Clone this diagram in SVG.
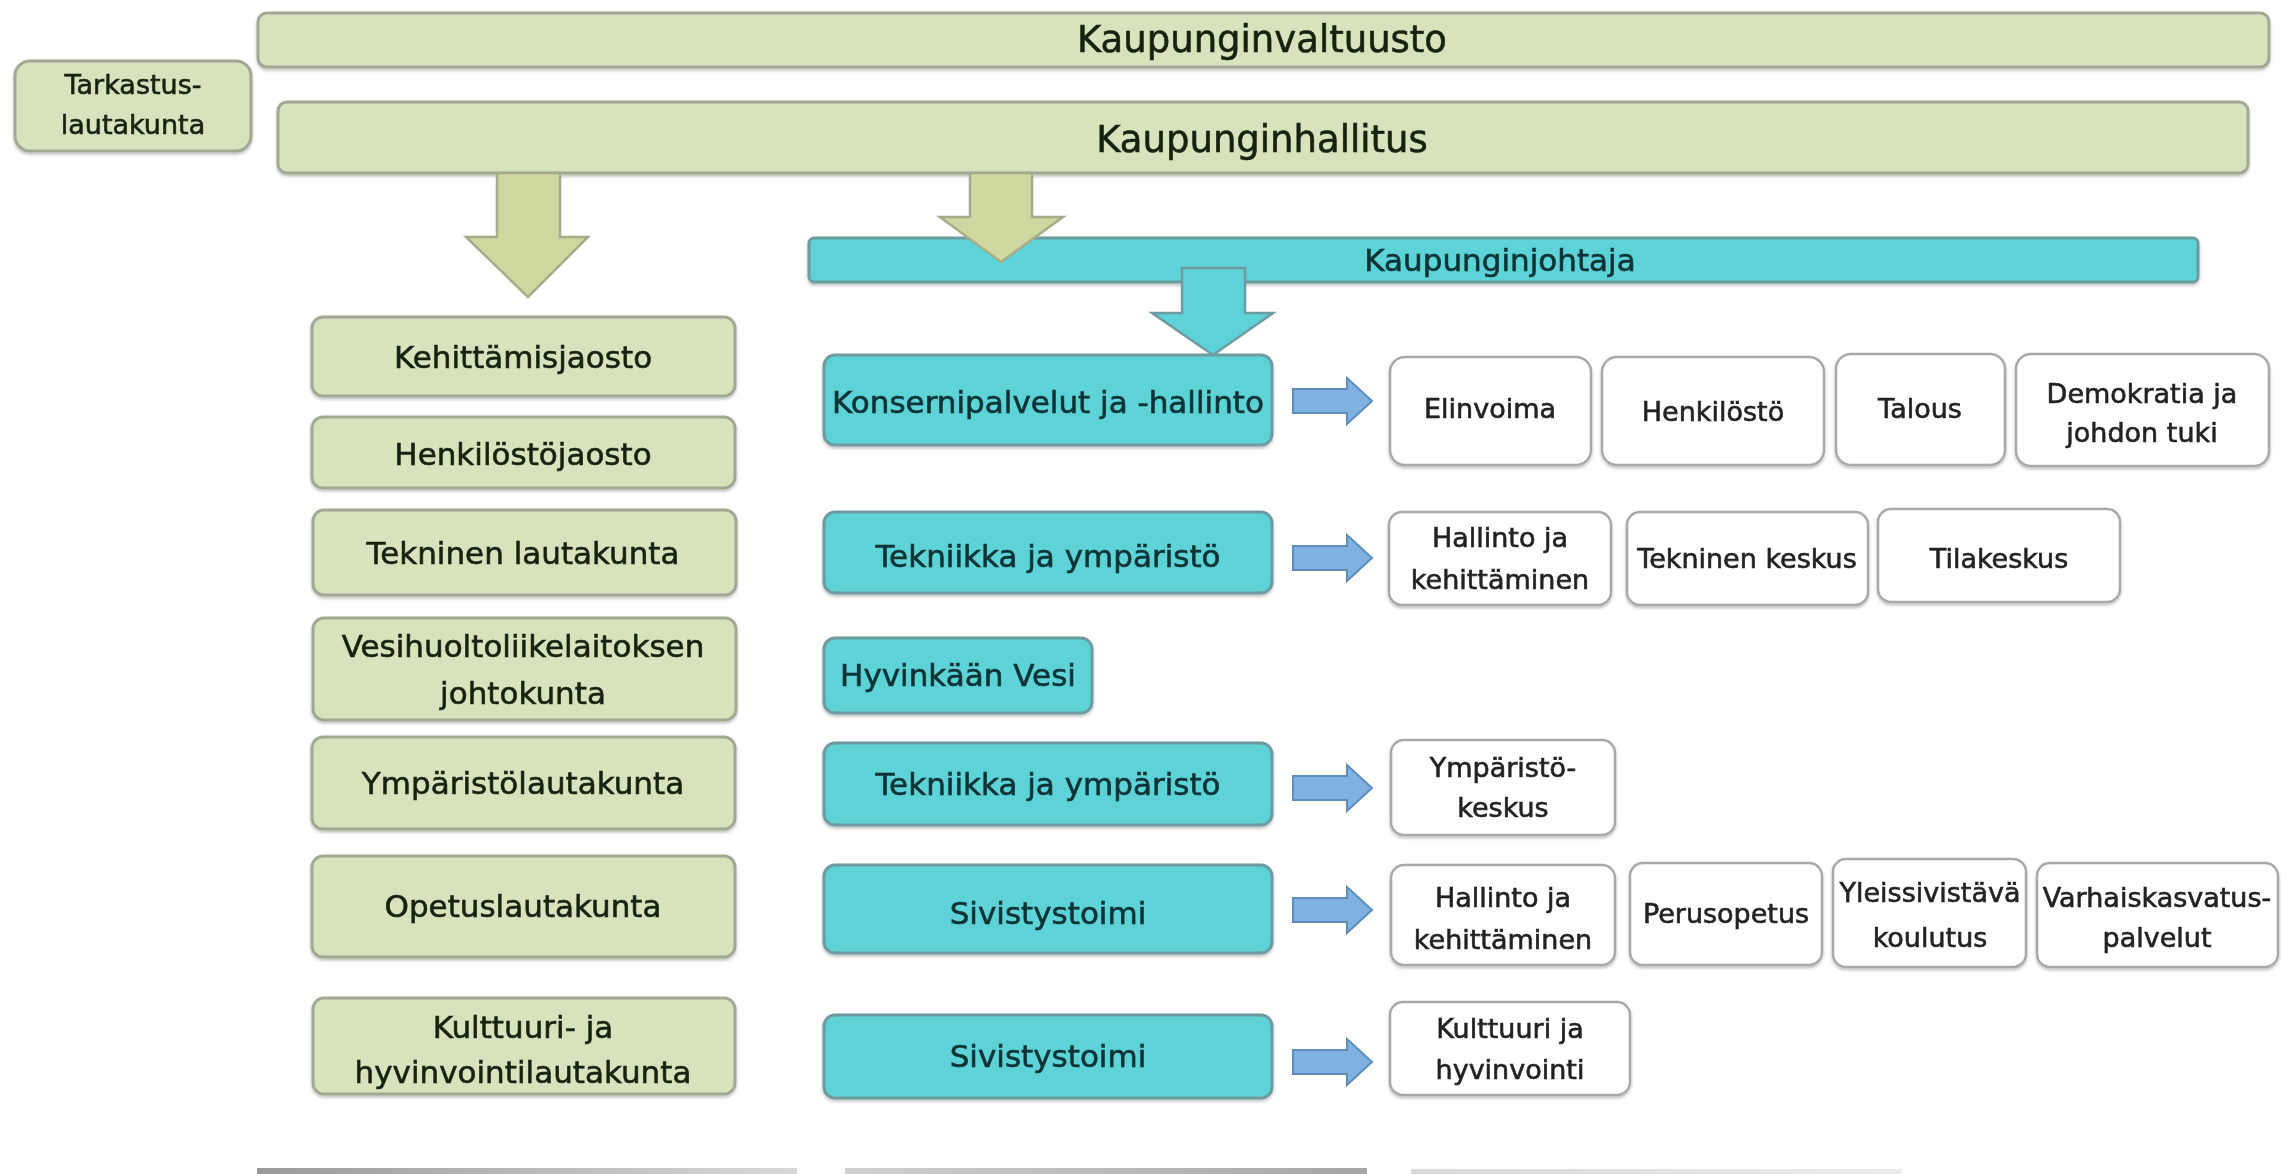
<svg xmlns="http://www.w3.org/2000/svg" width="2293" height="1174" viewBox="0 0 2293 1174">
<defs>
<style>
text{font-family:"DejaVu Sans","Liberation Sans",sans-serif;text-anchor:middle;dominant-baseline:central;stroke-width:0.6px}
.g{fill:#d6e3bc;stroke:#a2a894;stroke-width:3}
.c{fill:#5dd2d7;stroke:#6e9ba1;stroke-width:3}
.w{fill:#ffffff;stroke:#a9a9a9;stroke-width:2.5}
.ga{fill:#cfd7a1;stroke:#a5ac8a;stroke-width:2.5}
.ca{fill:#5dd2d7;stroke:#6e9ba1;stroke-width:2.5}
.ba{fill:#7fb2e1;stroke:#5d8dbd;stroke-width:2}
.tg{fill:#18230f;stroke:#18230f;font-size:31px}
.tt{fill:#18230f;stroke:#18230f;font-size:37px}
.tc{fill:#0a3334;stroke:#0a3334;font-size:31px}
.tw{fill:#222;stroke:#222;font-size:27px}
</style>
<filter id="sh" x="-5%" y="-10%" width="110%" height="130%">
<feDropShadow dx="0" dy="2" stdDeviation="1.5" flood-color="#000" flood-opacity="0.25"/>
</filter>
<path id="barrow" d="M0,-12 H54 V-23 L79,0 L54,23 V12 H0 Z"/>
<linearGradient id="l1" x1="0" x2="1"><stop offset="0" stop-color="#9a9a9a"/><stop offset="1" stop-color="#d8d8d8"/></linearGradient>
<linearGradient id="l2" x1="0" x2="1"><stop offset="0" stop-color="#d0d0d0"/><stop offset="1" stop-color="#a5a5a5"/></linearGradient>
<linearGradient id="l3" x1="0" x2="1"><stop offset="0" stop-color="#d8d8d8"/><stop offset="1" stop-color="#ececec"/></linearGradient>
</defs>
<rect width="2293" height="1174" fill="#ffffff"/>

<g id="kaupunginvaltuusto" filter="url(#sh)"><rect class="g" x="258" y="13" width="2011" height="54" rx="9"/><text class="tt" x="1262" y="39">Kaupunginvaltuusto</text></g>
<g id="tarkastuslautakunta" filter="url(#sh)"><rect class="g" x="15" y="61" width="236" height="90" rx="15"/><text class="tg" style="font-size:27px" x="133" y="84">Tarkastus-</text><text class="tg" style="font-size:27px" x="133" y="124">lautakunta</text></g>
<g id="kaupunginhallitus" filter="url(#sh)"><rect class="g" x="278" y="102" width="1970" height="71" rx="9"/><text class="tt" x="1262" y="139">Kaupunginhallitus</text></g>
<g id="kaupunginjohtaja" filter="url(#sh)"><rect class="c" x="809" y="238" width="1389" height="44" rx="5"/><text class="tc" x="1500" y="260">Kaupunginjohtaja</text></g>

<g id="connectors">
<path class="ga" d="M497,173 H560 V237 H588 L528,297 L466,237 H497 Z"/>
<path class="ga" d="M970,173 H1032 V217 H1063 L1001,262 L940,217 H970 Z"/>
<path class="ca" d="M1182,268 H1245 V313 H1273 L1213,355 L1152,313 H1182 Z"/>
<use href="#barrow" class="ba" x="1293" y="401"/>
<use href="#barrow" class="ba" x="1293" y="558"/>
<use href="#barrow" class="ba" x="1293" y="788"/>
<use href="#barrow" class="ba" x="1293" y="910"/>
<use href="#barrow" class="ba" x="1293" y="1062"/>
</g>

<g id="kehittamisjaosto" filter="url(#sh)"><rect class="g" x="312" y="317" width="423" height="79" rx="11"/><text class="tg" x="523" y="357">Kehittämisjaosto</text></g>
<g id="henkilostojaosto" filter="url(#sh)"><rect class="g" x="312" y="417" width="423" height="71" rx="11"/><text class="tg" x="523" y="454">Henkilöstöjaosto</text></g>
<g id="tekninen-lautakunta" filter="url(#sh)"><rect class="g" x="313" y="510" width="423" height="85" rx="11"/><text class="tg" x="523" y="553">Tekninen lautakunta</text></g>
<g id="vesihuolto" filter="url(#sh)"><rect class="g" x="313" y="618" width="423" height="102" rx="11"/><text class="tg" x="523" y="646">Vesihuoltoliikelaitoksen</text><text class="tg" x="523" y="693">johtokunta</text></g>
<g id="ymparistolautakunta" filter="url(#sh)"><rect class="g" x="312" y="737" width="423" height="92" rx="11"/><text class="tg" x="523" y="783">Ympäristölautakunta</text></g>
<g id="opetuslautakunta" filter="url(#sh)"><rect class="g" x="312" y="856" width="423" height="101" rx="11"/><text class="tg" x="523" y="906">Opetuslautakunta</text></g>
<g id="kulttuurilautakunta" filter="url(#sh)"><rect class="g" x="313" y="998" width="422" height="96" rx="11"/><text class="tg" x="523" y="1027">Kulttuuri- ja</text><text class="tg" x="523" y="1072">hyvinvointilautakunta</text></g>

<g id="konsernipalvelut" filter="url(#sh)"><rect class="c" x="824" y="355" width="448" height="90" rx="11"/><text class="tc" x="1048" y="402">Konsernipalvelut ja -hallinto</text></g>
<g id="tekniikka1" filter="url(#sh)"><rect class="c" x="824" y="512" width="448" height="81" rx="11"/><text class="tc" x="1048" y="556">Tekniikka ja ympäristö</text></g>
<g id="hyvinkaan-vesi" filter="url(#sh)"><rect class="c" x="824" y="638" width="268" height="75" rx="11"/><text class="tc" x="958" y="675">Hyvinkään Vesi</text></g>
<g id="tekniikka2" filter="url(#sh)"><rect class="c" x="824" y="743" width="448" height="82" rx="11"/><text class="tc" x="1048" y="784">Tekniikka ja ympäristö</text></g>
<g id="sivistystoimi1" filter="url(#sh)"><rect class="c" x="824" y="865" width="448" height="88" rx="11"/><text class="tc" x="1048" y="913">Sivistystoimi</text></g>
<g id="sivistystoimi2" filter="url(#sh)"><rect class="c" x="824" y="1015" width="448" height="83" rx="11"/><text class="tc" x="1048" y="1056">Sivistystoimi</text></g>

<g id="elinvoima" filter="url(#sh)"><rect class="w" x="1390" y="357" width="201" height="108" rx="15"/><text class="tw" x="1490" y="408">Elinvoima</text></g>
<g id="henkilosto" filter="url(#sh)"><rect class="w" x="1602" y="357" width="222" height="108" rx="15"/><text class="tw" x="1713" y="411">Henkilöstö</text></g>
<g id="talous" filter="url(#sh)"><rect class="w" x="1836" y="354" width="169" height="111" rx="15"/><text class="tw" x="1920" y="408">Talous</text></g>
<g id="demokratia" filter="url(#sh)"><rect class="w" x="2016" y="354" width="253" height="112" rx="15"/><text class="tw" x="2142" y="393">Demokratia ja</text><text class="tw" x="2142" y="432">johdon tuki</text></g>

<g id="hallinto1" filter="url(#sh)"><rect class="w" x="1389" y="512" width="222" height="93" rx="13"/><text class="tw" x="1500" y="537">Hallinto ja</text><text class="tw" x="1500" y="579">kehittäminen</text></g>
<g id="tekninen-keskus" filter="url(#sh)"><rect class="w" x="1627" y="512" width="241" height="93" rx="13"/><text class="tw" x="1747" y="558">Tekninen keskus</text></g>
<g id="tilakeskus" filter="url(#sh)"><rect class="w" x="1878" y="509" width="242" height="93" rx="13"/><text class="tw" x="1999" y="558">Tilakeskus</text></g>

<g id="ymparistokeskus" filter="url(#sh)"><rect class="w" x="1391" y="740" width="224" height="95" rx="13"/><text class="tw" x="1503" y="767">Ympäristö-</text><text class="tw" x="1503" y="807">keskus</text></g>

<g id="hallinto2" filter="url(#sh)"><rect class="w" x="1391" y="865" width="224" height="100" rx="13"/><text class="tw" x="1503" y="897">Hallinto ja</text><text class="tw" x="1503" y="939">kehittäminen</text></g>
<g id="perusopetus" filter="url(#sh)"><rect class="w" x="1630" y="863" width="192" height="102" rx="13"/><text class="tw" x="1726" y="913">Perusopetus</text></g>
<g id="yleissivistava" filter="url(#sh)"><rect class="w" x="1833" y="859" width="193" height="108" rx="13"/><text class="tw" x="1930" y="892">Yleissivistävä</text><text class="tw" x="1930" y="937">koulutus</text></g>
<g id="varhaiskasvatus" filter="url(#sh)"><rect class="w" x="2037" y="863" width="241" height="104" rx="13"/><text class="tw" x="2157" y="897">Varhaiskasvatus-</text><text class="tw" x="2157" y="937">palvelut</text></g>

<g id="kulttuuri-hyvinvointi" filter="url(#sh)"><rect class="w" x="1390" y="1002" width="240" height="93" rx="13"/><text class="tw" x="1510" y="1028">Kulttuuri ja</text><text class="tw" x="1510" y="1069">hyvinvointi</text></g>

<rect x="257" y="1168" width="540" height="6" fill="url(#l1)"/>
<rect x="845" y="1168" width="522" height="6" fill="url(#l2)"/>
<rect x="1411" y="1169" width="491" height="5" fill="url(#l3)"/>
</svg>
